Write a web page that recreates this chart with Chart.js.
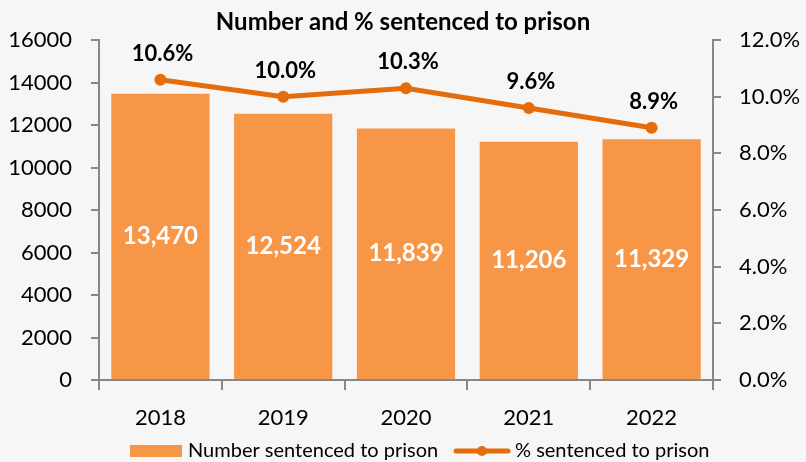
<!DOCTYPE html>
<html>
<head>
<meta charset="utf-8">
<script src="https://cdn.jsdelivr.net/npm/chart.js@4"></script>
<style>
  html, body { margin: 0; padding: 0; background: #F6F6F6; }
  #c { display: block; }
</style>
</head>
<body>
<canvas id="c" width="806" height="462"></canvas>
<script>
const categories = ['2018', '2019', '2020', '2021', '2022'];
const numberSentenced = [13470, 12524, 11839, 11206, 11329];
const pctSentenced = [10.6, 10.0, 10.3, 9.6, 8.9];
const leftTicks = [0, 2000, 4000, 6000, 8000, 10000, 12000, 14000, 16000];
const rightTicks = [0, 2, 4, 6, 8, 10, 12];
const titleText = 'Number and % sentenced to prison';
const seriesNames = ['Number sentenced to prison', '% sentenced to prison'];

const BAR_COLOR = '#F79646';
const LINE_COLOR = '#E46C0A';
const AXIS_COLOR = '#878787';
const FONT = 'Lato, "Open Sans", sans-serif';

const bgPlugin = {
  id: 'bg',
  beforeDraw(chart) {
    const ctx = chart.ctx;
    ctx.save();
    ctx.fillStyle = '#F6F6F6';
    ctx.fillRect(0, 0, chart.width, chart.height);
    ctx.restore();
  }
};

const labelsPlugin = {
  id: 'valueLabels',
  afterDatasetsDraw(chart) {
    const ctx = chart.ctx;
    ctx.save();
    ctx.textAlign = 'center';
    ctx.textBaseline = 'middle';
    const barMeta = chart.getDatasetMeta(0);
    ctx.font = 'bold 24px ' + FONT;
    ctx.fillStyle = '#FFFFFF';
    barMeta.data.forEach((el, i) => {
      const v = chart.data.datasets[0].data[i];
      ctx.fillText(v.toLocaleString('en-US'), el.x, (el.y + el.base) / 2);
    });
    const lineMeta = chart.getDatasetMeta(1);
    ctx.font = 'bold 22px ' + FONT;
    ctx.fillStyle = '#000000';
    lineMeta.data.forEach((el, i) => {
      const v = chart.data.datasets[1].data[i];
      ctx.fillText(v.toFixed(1) + '%', el.x + 2, el.y - 26);
    });
    ctx.restore();
  }
};

const legendPlugin = {
  id: 'customLegend',
  afterDraw(chart) {
    const ctx = chart.ctx;
    ctx.save();
    const cy = 451;
    ctx.fillStyle = BAR_COLOR;
    ctx.fillRect(130, 445, 52, 12);
    ctx.font = '20px ' + FONT;
    ctx.fillStyle = '#000000';
    ctx.textAlign = 'left';
    ctx.textBaseline = 'middle';
    ctx.fillText(seriesNames[0], 188, cy);
    ctx.strokeStyle = LINE_COLOR;
    ctx.lineWidth = 5;
    ctx.lineCap = 'round';
    ctx.beginPath();
    ctx.moveTo(456, cy);
    ctx.lineTo(508, cy);
    ctx.stroke();
    ctx.fillStyle = LINE_COLOR;
    ctx.beginPath();
    ctx.arc(482, cy, 5, 0, Math.PI * 2);
    ctx.fill();
    ctx.fillStyle = '#000000';
    ctx.fillText(seriesNames[1], 515, cy);
    ctx.restore();
  }
};

new Chart(document.getElementById('c'), {
  type: 'bar',
  data: {
    labels: categories,
    datasets: [
      {
        label: seriesNames[0],
        data: numberSentenced,
        backgroundColor: BAR_COLOR,
        yAxisID: 'y',
        order: 2,
        barPercentage: 0.8,
        categoryPercentage: 1.0
      },
      {
        label: seriesNames[1],
        type: 'line',
        data: pctSentenced,
        borderColor: LINE_COLOR,
        backgroundColor: LINE_COLOR,
        borderWidth: 5,
        pointRadius: 6,
        pointBackgroundColor: LINE_COLOR,
        pointBorderWidth: 0,
        yAxisID: 'y1',
        order: 1,
        tension: 0
      }
    ]
  },
  options: {
    responsive: false,
    devicePixelRatio: 1,
    animation: false,
    layout: { padding: { top: 0, bottom: 27, left: 0, right: 0 } },
    plugins: {
      legend: { display: false },
      tooltip: { enabled: false },
      title: {
        display: true,
        text: titleText,
        color: '#000000',
        font: { family: FONT, size: 24, weight: 'bold', lineHeight: 1.2 },
        padding: { top: 8, bottom: 3.2 }
      }
    },
    scales: {
      x: {
        offset: true,
        grid: { display: true, drawOnChartArea: false, drawTicks: true, tickLength: 10, color: AXIS_COLOR, lineWidth: 2, offset: true },
        border: { color: AXIS_COLOR, width: 2 },
        ticks: { color: '#000000', font: { family: FONT, size: 22 }, padding: 15 },
        afterFit(scale) { scale.height = 55; }
      },
      y: {
        position: 'left',
        min: 0,
        max: 16000,
        afterBuildTicks(scale) { scale.ticks = leftTicks.map(v => ({ value: v })); },
        grid: { display: true, drawOnChartArea: false, drawTicks: true, tickLength: 8, color: AXIS_COLOR, lineWidth: 2 },
        border: { color: AXIS_COLOR, width: 2 },
        ticks: { color: '#000000', font: { family: FONT, size: 22 }, padding: 19, callback: v => String(v) },
        afterFit(scale) { scale.width = 99; }
      },
      y1: {
        position: 'right',
        min: 0,
        max: 12,
        afterBuildTicks(scale) { scale.ticks = rightTicks.map(v => ({ value: v })); },
        grid: { display: true, drawOnChartArea: false, drawTicks: true, tickLength: 8, color: AXIS_COLOR, lineWidth: 2 },
        border: { color: AXIS_COLOR, width: 2 },
        ticks: { color: '#000000', font: { family: FONT, size: 22 }, padding: 18, callback: v => Number(v).toFixed(1) + '%' },
        afterFit(scale) { scale.width = 93; }
      }
    }
  },
  plugins: [bgPlugin, labelsPlugin, legendPlugin]
});
</script>
</body>
</html>
